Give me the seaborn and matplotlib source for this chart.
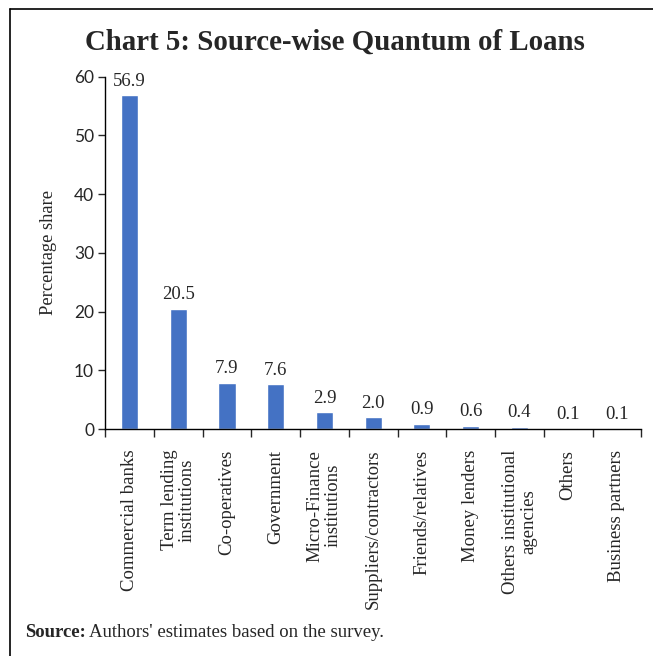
import matplotlib
matplotlib.use("Agg")
import matplotlib.pyplot as plt
import seaborn as sns
import pandas as pd
from matplotlib.lines import Line2D

sources = [
    "Commercial banks",
    "Term lending\ninstitutions",
    "Co-operatives",
    "Government",
    "Micro-Finance\ninstitutions",
    "Suppliers/contractors",
    "Friends/relatives",
    "Money lenders",
    "Others institutional\nagencies",
    "Others",
    "Business partners",
]
shares = [56.9, 20.5, 7.9, 7.6, 2.9, 2.0, 0.9, 0.6, 0.4, 0.1, 0.1]
y_ticks = [0, 10, 20, 30, 40, 50, 60]

df = pd.DataFrame({"source": sources, "share": shares})

sns.set_style("white")
plt.rcParams["font.family"] = ["Liberation Serif", "DejaVu Serif"]

fig = plt.figure(figsize=(6.53, 6.56), dpi=100)
ax = fig.add_axes([0.161, 0.346, 0.821, 0.537])

sns.barplot(data=df, x="source", y="share", color="#4472C4", width=0.35,
            saturation=1, ax=ax)

for i, v in enumerate(shares):
    ax.text(i, v + 0.9, f"{v:.1f}", ha="center", va="bottom", fontsize=13.5)

ax.set_ylim(0, 60)
ax.set_yticks(y_ticks)
ax.set_yticklabels([str(t) for t in y_ticks], fontsize=12.5, family=["Lato", "DejaVu Sans"])
ax.set_xlim(-0.5, len(sources) - 0.5)
ax.set_xticks(range(len(sources)))
ax.set_xticklabels(sources, rotation=90, fontsize=13.5, linespacing=1.08)
ax.tick_params(axis="x", length=0, pad=15)
ax.tick_params(axis="y", length=5, width=1, direction="out", left=True, pad=3)
# boundary ticks between categories
ax.set_xticks([i - 0.5 for i in range(len(sources) + 1)], minor=True)
ax.tick_params(axis="x", which="minor", length=6, width=1, direction="out", bottom=True)

ax.set_xlabel("")
ax.set_ylabel("Percentage share", fontsize=13.3, labelpad=12)
for side in ["top", "right"]:
    ax.spines[side].set_visible(False)
for side in ["left", "bottom"]:
    ax.spines[side].set_color("black")
    ax.spines[side].set_linewidth(1)

fig.text(0.513, 0.936, "Chart 5: Source-wise Quantum of Loans", ha="center",
         va="center", fontsize=20.8, fontweight="bold")
src = fig.text(0.038, 0.036, "Source:", fontsize=13.5, fontweight="bold", va="center")
fig.canvas.draw()
bb = src.get_window_extent().transformed(fig.transFigure.inverted())
fig.text(bb.x1 + 0.006, 0.036, "Authors' estimates based on the survey.", fontsize=13.5,
         va="center")

# frame lines at top and left
fig.add_artist(Line2D([0.015, 1.0], [0.986, 0.986], color="black", lw=1.2,
                      transform=fig.transFigure))
fig.add_artist(Line2D([0.015, 0.015], [0.0, 0.986], color="black", lw=1.2,
                      transform=fig.transFigure))

fig.savefig("out.png", dpi=100)
